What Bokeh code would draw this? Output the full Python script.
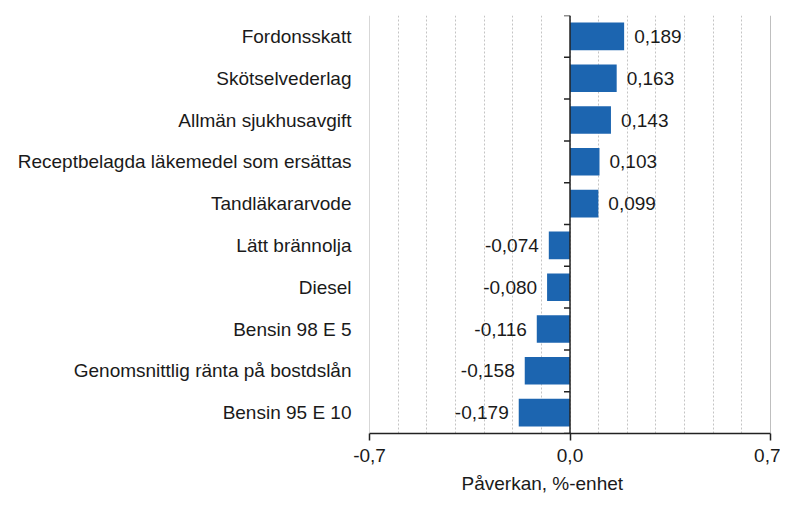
from bokeh.plotting import figure
from bokeh.models import FixedTicker, Span, ColumnDataSource, Title
from bokeh.core.properties import value
from bokeh.embed import file_html
from bokeh.resources import INLINE

categories = ["Fordonsskatt", "Skötselvederlag", "Allmän sjukhusavgift",
              "Receptbelagda läkemedel som ersättas", "Tandläkararvode",
              "Lätt brännolja", "Diesel", "Bensin 98 E 5",
              "Genomsnittlig ränta på bostdslån", "Bensin 95 E 10"]
values = [0.189, 0.163, 0.143, 0.103, 0.099, -0.074, -0.080, -0.116, -0.158, -0.179]
x_ticks = [-0.7, 0.0, 0.7]
x_tick_labels = ["-0,7", "0,0", "0,7"]
x_label = "Påverkan, %-enhet"

FONT = "Liberation Sans"
FS = "19px"
TXT = "#1a1a1a"
n = len(categories)
ypos = [n - i - 0.5 for i in range(n)]
labels = [f"{v:.3f}".replace(".", ",") for v in values]

src = ColumnDataSource(dict(y=ypos, v=values))
pos = ColumnDataSource(dict(y=[y for y, v in zip(ypos, values) if v >= 0],
                            v=[v for v in values if v >= 0],
                            lab=[l for l, v in zip(labels, values) if v >= 0]))
neg = ColumnDataSource(dict(y=[y for y, v in zip(ypos, values) if v < 0],
                            v=[v for v in values if v < 0],
                            lab=[l for l, v in zip(labels, values) if v < 0]))

W, H = 780, 499
p = figure(width=W, height=H, x_range=(-0.7, 0.7), y_range=(0, n),
           output_backend="svg", toolbar_location=None)
p.min_border_left = 369
p.min_border_right = 10
p.min_border_top = 15
p.min_border_bottom = 63
p.outline_line_color = None
p.background_fill_color = "white"
p.border_fill_color = "white"

# grid
p.ygrid.visible = False
p.xgrid.ticker = FixedTicker(ticks=[round(-0.6 + 0.1 * i, 1) for i in range(13)])
p.xgrid.grid_line_color = "#c4c4c4"
p.xgrid.grid_line_dash = "2 2"
p.xgrid.grid_line_width = 1
p.add_layout(Span(location=-0.7, dimension="height", line_color="#b0b0b0", line_width=1))
p.add_layout(Span(location=0.7, dimension="height", line_color="#808080", line_width=1))

p.hbar(y="y", right="v", left=0, height=0.66, source=src,
       fill_color="#1c65b0", line_color=None)

p.text(x="v", y="y", text="lab", source=pos, x_offset=10,
       text_align="left", text_baseline="middle",
       text_font=value(FONT), text_font_size=FS, text_color=TXT)
p.text(x="v", y="y", text="lab", source=neg, x_offset=-10,
       text_align="right", text_baseline="middle",
       text_font=value(FONT), text_font_size=FS, text_color=TXT)

# zero line with ticks at category boundaries
p.add_layout(Span(location=0, dimension="height", line_color="#222222", line_width=1.5))
tick_len = 6 * 1.4 / (W - 369 - 10)
bounds = list(range(n + 1))
p.segment(x0=[0] * len(bounds), x1=[-tick_len] * len(bounds), y0=bounds, y1=bounds,
          line_color="#222222", line_width=1.5)

# x axis
xa = p.xaxis[0]
xa.ticker = FixedTicker(ticks=x_ticks)
xa.major_label_overrides = {t: l for t, l in zip(x_ticks, x_tick_labels)}
xa.minor_tick_line_color = None
xa.major_tick_out = 7
xa.major_tick_in = 0
xa.axis_line_color = "#222222"
xa.axis_line_width = 1.5
xa.major_tick_line_color = "#222222"
xa.major_tick_line_width = 1.5
xa.major_label_text_font = FONT
xa.major_label_text_font_size = FS
xa.major_label_text_color = TXT
xa.major_label_standoff = 8

p.add_layout(Title(text=x_label, align="left", offset=92, text_font=FONT,
                   text_font_size=FS, text_font_style="normal",
                   text_color=TXT, standoff=12), "below")

# y labels axis
ya = p.yaxis[0]
ya.ticker = FixedTicker(ticks=ypos)
ya.major_label_overrides = {y: c for y, c in zip(ypos, categories)}
ya.axis_line_color = None
ya.major_tick_line_color = None
ya.minor_tick_line_color = None
ya.major_label_standoff = 12
ya.major_label_text_font = FONT
ya.major_label_text_font_size = FS
ya.major_label_text_color = TXT

open("out.html", "w").write(file_html(p, INLINE))
